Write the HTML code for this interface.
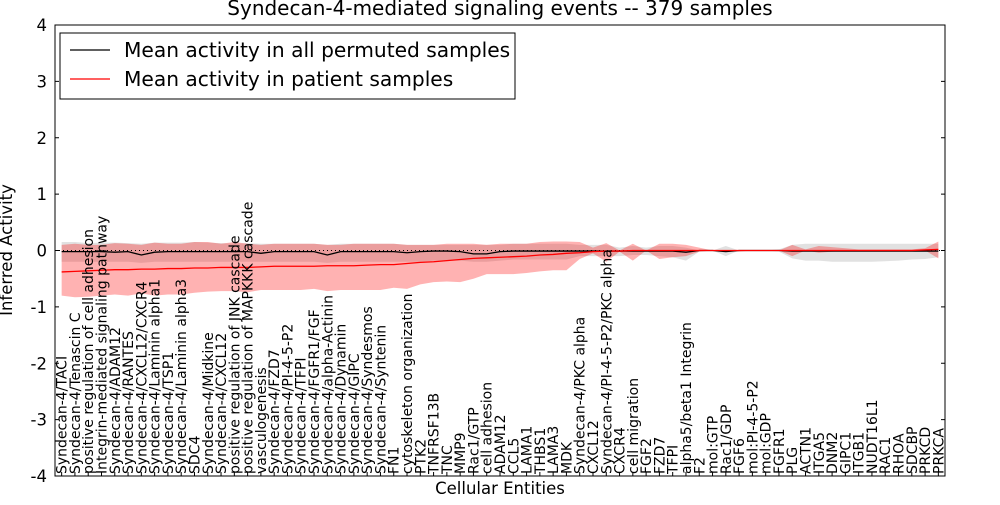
<!DOCTYPE html>
<html><head><meta charset="utf-8"><style>
body{margin:0;background:#fff;width:1000px;height:500px;overflow:hidden}
svg{font-family:"DejaVu Sans","Liberation Sans",sans-serif}
</style></head><body>
<svg id="chart" width="1000" height="500" xmlns="http://www.w3.org/2000/svg">
<text x="500" y="15" font-size="20" text-anchor="middle">Syndecan-4-mediated signaling events -- 379 samples</text>
<g id="plot"></g>
<rect x="55" y="25" width="890" height="451" fill="none" stroke="#000" stroke-width="1"/>
<text transform="translate(12,250) rotate(-90)" font-size="16.5" text-anchor="middle">Inferred Activity</text>
<text x="500" y="494" font-size="16.5" text-anchor="middle">Cellular Entities</text>
<g>
<rect x="60" y="33" width="455" height="66" fill="#fff" stroke="#000"/>
<line x1="70" y1="50" x2="110" y2="50" stroke="#000" stroke-width="1.2"/>
<text x="124" y="57" font-size="20.2">Mean activity in all permuted samples</text>
<line x1="70" y1="79" x2="110" y2="79" stroke="#f00" stroke-width="1.2"/>
<text x="124" y="86" font-size="20.2">Mean activity in patient samples</text>
</g>
</svg>
<script>
const labels=["Syndecan-4/TACI","Syndecan-4/Tenascin C","positive regulation of cell adhesion","Integrin-mediated signaling pathway","Syndecan-4/ADAM12","Syndecan-4/RANTES","Syndecan-4/CXCL12/CXCR4","Syndecan-4/Laminin alpha1","Syndecan-4/TSP1","Syndecan-4/Laminin alpha3","SDC4","Syndecan-4/Midkine","Syndecan-4/CXCL12","positive regulation of JNK cascade","positive regulation of MAPKKK cascade","vasculogenesis","Syndecan-4/FZD7","Syndecan-4/PI-4-5-P2","Syndecan-4/TFPI","Syndecan-4/FGFR1/FGF","Syndecan-4/alpha-Actinin","Syndecan-4/Dynamin","Syndecan-4/GIPC","Syndecan-4/Syndesmos","Syndecan-4/Syntenin","FN1","cytoskeleton organization","PTK2","TNFRSF13B","TNC","MMP9","Rac1/GTP","cell adhesion","ADAM12","CCL5","LAMA1","THBS1","LAMA3","MDK","Syndecan-4/PKC alpha","CXCL12","Syndecan-4/PI-4-5-P2/PKC alpha","CXCR4","cell migration","FGF2","FZD7","TFPI","alpha5/beta1 Integrin","F2","mol:GTP","Rac1/GDP","FGF6","mol:PI-4-5-P2","mol:GDP","FGFR1","PLG","ACTN1","ITGA5","DNM2","GIPC1","ITGB1","NUDT16L1","RAC1","RHOA","SDCBP","PRKCD","PRKCA"];
const redMean=[-0.38,-0.37,-0.36,-0.35,-0.34,-0.34,-0.33,-0.33,-0.32,-0.32,-0.31,-0.31,-0.30,-0.30,-0.30,-0.29,-0.28,-0.28,-0.28,-0.28,-0.27,-0.27,-0.27,-0.26,-0.25,-0.25,-0.23,-0.21,-0.20,-0.18,-0.16,-0.14,-0.13,-0.12,-0.11,-0.10,-0.08,-0.07,-0.05,-0.04,-0.02,-0.01,-0.01,0,0,0,0,0,0,0,0,0,0,0,0,0,0,0,0,0,0,0,0,0,0,0.01,0.02];
const redLow=[-0.8,-0.83,-0.82,-0.8,-0.78,-0.8,-0.76,-0.8,-0.78,-0.78,-0.75,-0.73,-0.72,-0.72,-0.74,-0.7,-0.7,-0.7,-0.7,-0.68,-0.72,-0.7,-0.7,-0.7,-0.7,-0.66,-0.68,-0.6,-0.56,-0.55,-0.56,-0.5,-0.42,-0.42,-0.42,-0.4,-0.37,-0.35,-0.35,-0.15,-0.05,-0.2,-0.02,-0.18,0,-0.15,-0.12,-0.1,-0.02,0,0,-0.02,0,0,0,-0.1,0,-0.04,-0.02,-0.01,0,0,0,0,0,0,-0.14];
const redHigh=[0.1,0.12,0.1,0.1,0.13,0.12,0.1,0.14,0.12,0.12,0.15,0.15,0.12,0.15,0.12,0.1,0.12,0.12,0.12,0.12,0.1,0.1,0.12,0.12,0.12,0.12,0.1,0.1,0.1,0.12,0.12,0.12,0.1,0.12,0.12,0.12,0.15,0.16,0.16,0.15,0.05,0.13,0,0.12,0,0.12,0.12,0.1,0.05,0,0,0,0,0,0,0.1,0.02,0.08,0.06,0.04,0.02,0.02,0.02,0.02,0.02,0.04,0.16];
const grayMean=[-0.02,-0.02,-0.02,-0.02,-0.03,-0.02,-0.08,-0.03,-0.02,-0.02,-0.02,-0.02,-0.02,-0.02,-0.02,-0.05,-0.02,-0.02,-0.02,-0.02,-0.08,-0.02,-0.02,-0.02,-0.02,-0.02,-0.04,-0.02,-0.01,-0.01,-0.02,-0.06,-0.06,-0.02,-0.01,-0.01,-0.01,-0.01,-0.01,-0.01,-0.01,-0.01,-0.01,-0.01,-0.01,-0.01,-0.01,-0.03,0,0,-0.02,0,0,0,0,-0.01,-0.01,-0.01,-0.01,-0.01,-0.01,-0.01,-0.01,-0.01,-0.01,-0.01,-0.01];
const grayLow=[-0.2,-0.2,-0.2,-0.2,-0.2,-0.2,-0.22,-0.2,-0.2,-0.2,-0.2,-0.2,-0.2,-0.2,-0.2,-0.2,-0.2,-0.2,-0.2,-0.2,-0.22,-0.2,-0.2,-0.2,-0.2,-0.2,-0.2,-0.2,-0.18,-0.18,-0.18,-0.2,-0.2,-0.18,-0.16,-0.16,-0.16,-0.16,-0.16,-0.1,-0.1,-0.1,-0.1,-0.08,-0.08,-0.1,-0.12,-0.18,-0.02,0,-0.1,0,0,0,-0.02,-0.14,-0.18,-0.18,-0.2,-0.2,-0.2,-0.2,-0.19,-0.18,-0.16,-0.15,-0.12];
const grayHigh=[0.15,0.15,0.13,0.14,0.14,0.13,0.12,0.14,0.14,0.14,0.15,0.14,0.13,0.12,0.13,0.12,0.12,0.12,0.12,0.12,0.1,0.12,0.12,0.12,0.12,0.12,0.1,0.1,0.1,0.1,0.1,0.1,0.1,0.1,0.12,0.12,0.12,0.12,0.12,0.1,0.1,0.1,0.05,0.08,0.05,0.08,0.08,0.05,0,0,0.08,0,0,0,0.02,0.1,0.12,0.12,0.12,0.12,0.12,0.12,0.12,0.12,0.12,0.12,0.12];
const yTicks=[-4,-3,-2,-1,0,1,2,3,4];
const L=55,R=945,T=25,B=476,n=labels.length;
const xs=i=>L+(i+0.5)*(R-L)/n;
const ys=v=>B-(v+4)*(B-T)/8;
const NS="http://www.w3.org/2000/svg";
const plot=document.getElementById('plot');
function mk(tag,attrs){const e=document.createElementNS(NS,tag);for(const k in attrs)e.setAttribute(k,attrs[k]);plot.appendChild(e);return e;}
function band(lo,hi,fill,op,name){
  let d='M'+lo.map((v,i)=>xs(i)+','+ys(v)).join('L');
  for(let i=n-1;i>=0;i--)d+='L'+xs(i)+','+ys(hi[i]);
  const p=mk('path',{d:d+'Z',fill:fill,'fill-opacity':op});
  
  
}
function line(arr,stroke,name){
  const p=mk('path',{d:'M'+arr.map((v,i)=>xs(i)+','+ys(v)).join('L'),fill:'none',stroke:stroke,'stroke-width':1.3});
  
  
}
band(grayLow,grayHigh,'#c8c8c8',0.55,'permuted-band');
band(redLow,redHigh,'#ff0000',0.3,'patient-band');
const z=mk('line',{x1:L,x2:R,y1:ys(0),y2:ys(0),stroke:'#000','stroke-dasharray':'1,3','stroke-width':1});


line(grayMean,'#000','permuted-mean-line');
line(redMean,'#f00','patient-mean-line');
yTicks.forEach(t=>{
  const y=ys(t);
  const a=mk('line',{x1:L,x2:L+4,y1:y,y2:y,stroke:'#000'});
  
  
  const b=mk('line',{x1:R-4,x2:R,y1:y,y2:y,stroke:'#000'});
  
  
  const tx=mk('text',{x:L-8,y:y+6,'font-size':16.5,'text-anchor':'end'});
  tx.textContent=t;
  
  
});
labels.forEach((s,i)=>{
  const x=xs(i);
  const tk=mk('line',{x1:x,x2:x,y1:B,y2:B-4,stroke:'#000'});
  
  
  const tx=mk('text',{transform:`translate(${x+5},${B-2}) rotate(-90)`,'font-size':14});
  tx.textContent=s;
  
  
});
</script>
</body></html>
